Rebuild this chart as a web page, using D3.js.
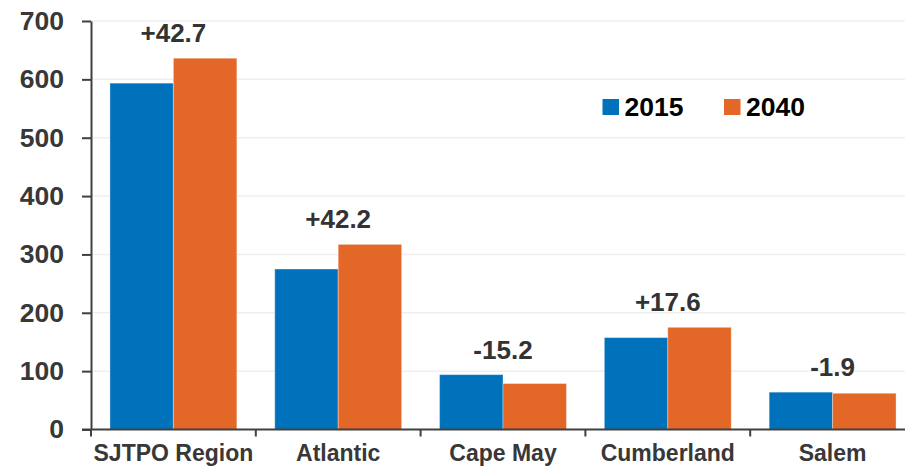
<!DOCTYPE html>
<html>
<head>
<meta charset="utf-8">
<script src="https://cdn.jsdelivr.net/npm/d3@7"></script>
<style>
  body { margin: 0; background: #fff; }
  #chart text { font-family: "Liberation Sans", Arial, sans-serif; font-weight: bold; }
</style>
</head>
<body>
<div id="chart"></div>
<script>
const categories = ['SJTPO Region', 'Atlantic', 'Cape May', 'Cumberland', 'Salem'];
const series = ['2015', '2040'];
const values2015 = [593.5, 275, 94, 157.5, 64];
const values2040 = [636.2, 317.2, 78.8, 175.1, 62.1];
const changeLabels = ['+42.7', '+42.2', '-15.2', '+17.6', '-1.9'];
const yTicks = [0, 100, 200, 300, 400, 500, 600, 700];

const width = 905, height = 466;
const margin = {top: 21, left: 91, right: -10, bottom: 36.5};
const adjustedWidth = width - margin.left - margin.right;
const adjustedHeight = height - margin.top - margin.bottom;

const data = categories.map((c, i) => ({cat: c, '2015': values2015[i], '2040': values2040[i], label: changeLabels[i]}));

// Creates SVG element
let svg = d3.select('#chart').append('svg')
    .attr('width', width)
    .attr('height', height)
  .append('g')
    .attr('transform', 'translate(' + margin.left + ',' + margin.top + ')');

// X scale
let x = d3.scaleBand()
  .domain(categories)
  .range([0, adjustedWidth])
  .padding(0);

let xSub = d3.scaleBand()
  .domain(series)
  .range([x.bandwidth() * 0.115, x.bandwidth() * 0.885])
  .padding(0);

// Y scale
let y = d3.scaleLinear()
  .domain([0, 700])
  .range([adjustedHeight, 0]);

let color = d3.scaleOrdinal()
  .domain(series)
  .range(['#0072BC', '#E36727']);

// Gridlines
svg.append('g')
  .selectAll('line')
  .data(yTicks.slice(1))
  .enter().append('line')
    .attr('x1', 0)
    .attr('x2', width - margin.left)
    .attr('y1', d => y(d))
    .attr('y2', d => y(d))
    .attr('stroke', '#efefef')
    .attr('stroke-width', 1.5);

// Bars
svg.append('g')
  .selectAll('g')
  .data(data)
  .enter()
  .append('g')
    .attr('transform', d => 'translate(' + x(d.cat) + ',0)')
  .selectAll('rect')
  .data(d => series.map(key => ({key: key, value: d[key]})))
  .enter().append('rect')
    .attr('x', d => xSub(d.key))
    .attr('y', d => y(d.value))
    .attr('width', xSub.bandwidth())
    .attr('height', d => adjustedHeight - y(d.value))
    .attr('fill', d => color(d.key))
    .attr('stroke', 'rgba(255,255,255,0.35)')
    .attr('stroke-width', 1);

// Y axis
let yAxis = svg.append('g')
  .call(d3.axisLeft(y).tickValues(yTicks).tickSize(9).tickSizeOuter(0).tickPadding(18));
yAxis.select('.domain').attr('stroke', '#404040').attr('stroke-width', 2);
yAxis.selectAll('line').attr('stroke', '#404040').attr('stroke-width', 2);
yAxis.selectAll('text')
  .attr('fill', '#383838')
  .style('font-size', '26.5px');

// X axis
let xAxis = svg.append('g')
  .attr('transform', 'translate(0,' + adjustedHeight + ')')
  .call(d3.axisBottom(x).tickSize(0).tickSizeOuter(0).tickPadding(15));
xAxis.select('.domain').remove();
xAxis.append('line')
  .attr('x1', -9)
  .attr('x2', width - margin.left)
  .attr('stroke', '#404040')
  .attr('stroke-width', 2);
xAxis.selectAll('.tick-mark')
  .data(categories)
  .enter().append('line')
    .attr('x1', d => x(d))
    .attr('x2', d => x(d))
    .attr('y1', 0)
    .attr('y2', 7)
    .attr('stroke', '#404040')
    .attr('stroke-width', 2);
xAxis.selectAll('.tick text')
  .attr('fill', '#383838')
  .attr('dy', '0.71em')
  .style('font-size', '23px');

// Change labels
svg.append('g')
  .selectAll('text')
  .data(data)
  .enter().append('text')
    .attr('x', d => x(d.cat) + x.bandwidth() / 2)
    .attr('y', d => y(Math.max(d['2015'], d['2040'])) - 16)
    .attr('text-anchor', 'middle')
    .attr('fill', '#333')
    .style('font-size', '26px')
    .text(d => d.label);

// Legend
let legend = svg.append('g')
  .attr('transform', 'translate(' + (602.5 - margin.left) + ',' + (99 - margin.top) + ')');
let legendItem = legend.selectAll('g')
  .data(series)
  .enter().append('g')
    .attr('transform', (d, i) => 'translate(' + (i * 121.5) + ',0)');
legendItem.append('rect')
  .attr('width', 16.5)
  .attr('height', 16)
  .attr('fill', d => color(d));
legendItem.append('text')
  .attr('x', 22)
  .attr('y', 17)
  .attr('fill', '#000')
  .style('font-size', '26.5px')
  .text(d => d);
</script>
</body>
</html>
